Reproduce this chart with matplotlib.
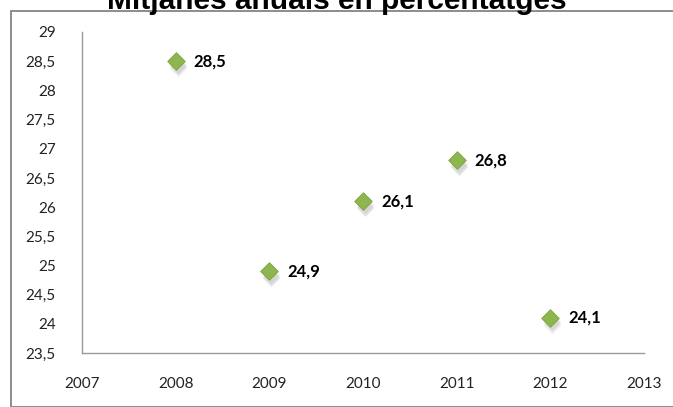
import matplotlib.pyplot as plt
from matplotlib.patches import Rectangle

years = [2008, 2009, 2010, 2011, 2012]
values = [28.5, 24.9, 26.1, 26.8, 24.1]
labels = ['28,5', '24,9', '26,1', '26,8', '24,1']
yticks = [23.5, 24, 24.5, 25, 25.5, 26, 26.5, 27, 27.5, 28, 28.5, 29]
xticks = [2007, 2008, 2009, 2010, 2011, 2012, 2013]

plt.rcParams['font.family'] = ['Lato', 'DejaVu Sans']

fig = plt.figure(figsize=(6.73, 4.07), dpi=100)
ax = fig.add_axes([82/673, 1 - 353/407, (644 - 82)/673, (353 - 32)/407])

# outer chart border (partly off-canvas)
fig.patches.append(Rectangle((11/673, 0), 1, 1 - 11/407, transform=fig.transFigure,
                             fill=False, edgecolor='#8c8c8c', linewidth=1.4))

# title, cut off at the top as in the original
fig.text(0.5, 1 - 9/407, 'Mitjanes anuals en percentatges', ha='center', va='baseline',
         fontsize=21.5, fontweight='bold', family='Liberation Sans')

# soft shadow under the markers
for k in range(3):
    ax.scatter([x + 0.02 for x in years], [v - 0.06 - 0.03 * k for v in values], marker='D',
               s=80, color='#808080', alpha=0.12, linewidths=0, zorder=2)
ax.scatter(years, values, marker='D', s=80, color='#8DB74E', edgecolors='#7AA33F',
           linewidths=0.6, zorder=3)

for x, v, t in zip(years, values, labels):
    ax.annotate(t, (x, v), xytext=(13, 0), textcoords='offset points', va='center',
                ha='left', fontsize=12, fontweight='bold')

ax.set_xlim(2007, 2013)
ax.set_ylim(23.5, 29)
ax.set_xticks(xticks)
ax.set_xticklabels([str(x) for x in xticks])
ax.set_yticks(yticks)
ax.set_yticklabels([str(y).replace('.', ',') if y % 1 else str(int(y)) for y in yticks])
ax.tick_params(length=0, labelsize=11, colors='#222222')
ax.tick_params(axis='x', pad=17)
ax.tick_params(axis='y', pad=19)
for s in ['top', 'right']:
    ax.spines[s].set_visible(False)
for s in ['left', 'bottom']:
    ax.spines[s].set_color('#9a9a9a')
    ax.spines[s].set_linewidth(1)

plt.savefig('out.png', dpi=100)
